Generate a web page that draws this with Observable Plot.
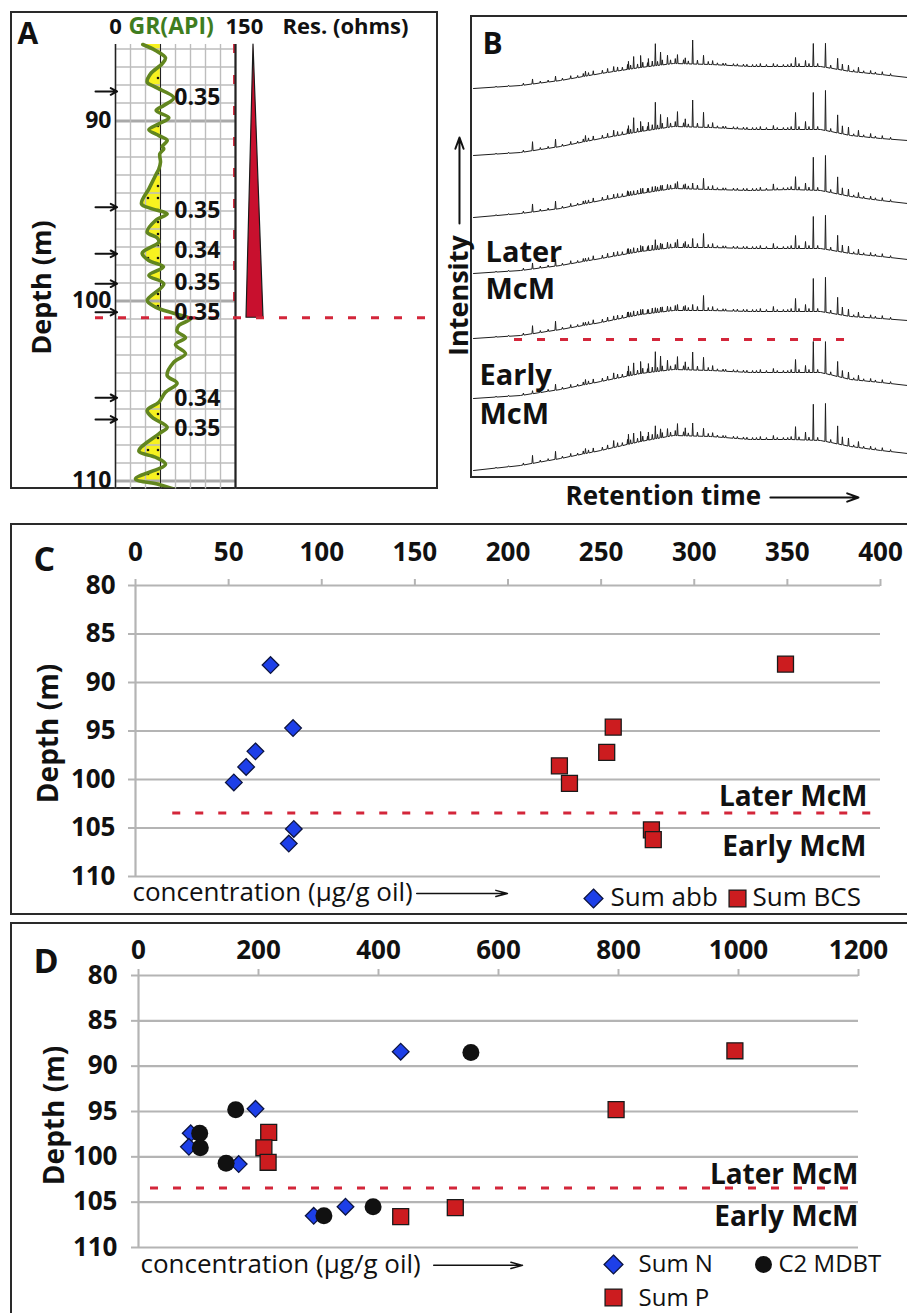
<!DOCTYPE html>
<html><head><meta charset="utf-8">
<script src="https://cdn.jsdelivr.net/npm/d3@7"></script>
<script src="https://cdn.jsdelivr.net/npm/@observablehq/plot@0.6"></script>
<style>
body{margin:0;background:#fff;}
#page{position:relative;width:907px;height:1313px;overflow:hidden;font-family:"Open Sans",sans-serif;background:#fff;}
.box{position:absolute;border:2px solid #2a2a2a;box-sizing:border-box;}
.slot{position:absolute;}
.slot svg{overflow:visible;}
</style></head><body>
<svg width="0" height="0" style="position:absolute">
  <defs>
    <pattern id="sand" patternUnits="userSpaceOnUse" width="10" height="12">
      <rect width="10" height="12" fill="#f7f21f"/>
      <circle cx="8" cy="6" r="1.3" fill="#111"/>
    </pattern>
  </defs>
</svg>
<div id="page">
  <div class="box" style="left:10px;top:11px;width:428px;height:478px"></div>
  <div class="box" style="left:470px;top:15px;width:445px;height:463px"></div>
  <div class="box" style="left:10px;top:523px;width:905px;height:392px"></div>
  <div class="box" style="left:10px;top:922px;width:905px;height:400px"></div>
  <div class="slot" id="pA" style="left:0;top:0"></div>
  <div class="slot" id="pB" style="left:440px;top:15px"></div>
  <div class="slot" id="pC" style="left:0;top:523px"></div>
  <div class="slot" id="pD" style="left:0;top:923px"></div>
</div>
<script>
// ---------------- Panel A data ----------------
const grDepth = [85.75,86.08,86.49,86.82,87.38,87.84,88.12,88.71,89.14,89.42,89.82,90.16,90.49,90.81,91.08,91.42,91.55,91.82,92.29,92.66,93.03,93.77,94.6,94.88,95.16,95.53,96.18,96.49,96.73,97.34,97.75,98.1,98.58,99.05,99.97,100.34,100.71,100.99,101.36,101.68,102.04,102.42,102.93,103.4,104.14,104.57,105.07,105.62,106.08,106.46,107.01,107.38,108.34,108.68,109.08,109.88,110.19,110.53];
const grValue = [34.1,50,62.5,58.3,43.75,39.6,50,72.9,60.4,50.8,66.7,54.2,41.7,54.2,64.6,58.3,60.4,55.4,56.25,54.2,50,41.7,32.5,45.8,64.6,50,39.6,52.1,54.2,33.3,41.7,60,41.7,60.4,39.6,50,75,93.75,79.2,77,87.5,75,87.5,72.9,64.6,77,62.5,54.2,39.6,45.8,64.6,54.2,29.2,50,62.5,25,54.2,79.2];
const grCutoff = 56.25;
const grGrid = [0,18.75,37.5,56.25,75,93.75,112.5,131.25,150];
const depthGridA = d3.range(86,111);
const depthMajorA = [90,100,110];
const sampleDepth = [88.36,94.79,97.38,99.04,100.62,105.38,106.58];
const porosityDepth = [88.7,94.97,97.19,98.97,100.64,105.4,107.08];
const porosity = ["0.35","0.35","0.34","0.35","0.35","0.34","0.35"];
const resDepth = [85.75,100.93];
const resLeft = [172.5,163.75];
const resRight = [172.5,185];
const boundaryA = 100.93;

// ---------------- Panel B data ----------------
const retGrid = [0,10.8,20.0,29.3,38.5,46.1,54.6,63.8,73.0,80.0,86.9,93.8,100];
const traceStart = [389,322,260,204,139,79,7];
const baseRows = [
  [0,3,8,15,21,25,24,22,22,22,17,14,11],
  [0,3,9,17,24,29,28,26,26,26,20,17,15],
  [0,4,9,17,24,29,28,27,28,27,21,17,14],
  [0,3,8,15,22,26,26,25,25,25,20,17,14],
  [0,3,9,16,24,28,28,27,27,27,22,20,18],
  [0,3,9,17,25,29,28,26,26,26,19,16,13],
  [0,5,12,20,29,35,34,31,31,30,24,20,17]
];
const peakT = [13.6,18.9,25.8,32.3,35.7,36.9,38.5,40.3,41.9,43.1,44.7,47.0,48.8,50.5,53.0,55.1,66.1,69.1,74.2,76.5,78.3,81.1,83.9,85.0,86.4,88.7,91.5,94.2];
const peakRows = [
  [5,5,5,5,8,12,12,8,22,13,9,9,6,24,9,4,3,3,9,6,23,24,11,6,6,5,3,3],
  [9,8,6,6,8,15,10,8,27,14,10,15,8,27,15,5,3,4,17,8,37,40,18,8,8,6,4,3],
  [8,8,3,4,4,4,5,4,5,5,5,7,5,6,11,4,3,6,13,7,33,36,17,7,7,5,3,3],
  [6,7,3,4,5,5,6,5,10,6,6,8,6,9,14,4,3,5,13,7,32,34,16,7,7,5,3,3],
  [8,9,3,4,5,5,5,4,5,5,5,6,5,6,15,4,3,5,13,7,33,35,17,8,7,5,3,3],
  [3,6,5,6,10,12,12,9,20,15,10,13,8,18,13,5,3,4,13,7,31,32,15,7,7,5,3,3],
  [8,8,5,7,10,10,10,8,13,9,8,12,8,13,8,4,3,4,13,8,36,38,18,8,8,6,3,3]
];
const minorT = [5.2,8.1,11.5,15.4,17.2,20.5,22.4,24.0,25.3,26.5,27.6,29.7,30.9,33.2,34.3,35.5,36.2,37.8,39.0,40.1,41.2,42.4,43.5,45.4,46.5,48.4,49.5,51.6,54.1,56.2,57.5,58.1,59.9,60.8,62.2,63.0,64.3,65.2,67.5,70.0,71.4,72.4,73.2,75.0,77.3,79.3,82.3,87.6,89.9,92.6,96.1];
const minorH = [1,1,2,2,2,2,3,2,3,3,4,3,4,4,3,5,4,4,5,4,5,4,5,4,5,4,3,4,3,2,2,2,2,2,2,2,2,2,2,2,2,2,3,3,3,3,3,2,2,2,2];
const boundaryB = 138;

// ---------------- Panel C data ----------------
const abbDepth = [88.2,94.7,97.1,98.7,100.3,105.1,106.6];
const sumAbb = [72.5,84.6,64.4,59.4,52.8,85,82.3];
const bcsDepth = [88.1,94.6,97.2,98.6,100.4,105.2,106.2];
const sumBCS = [349,256.5,253,227.6,233,277,278];
const xTicksC = [0,50,100,150,200,250,300,350,400];
const depthTicks = [80,85,90,95,100,105,110];
const boundaryCD = 103.45;

// ---------------- Panel D data ----------------
const nDepth = [88.4,94.7,97.4,98.9,100.8,106.5,105.5];
const sumN = [437,195,87,84,167,292,345];
const mdbtDepth = [88.5,94.8,97.4,99.0,100.7,106.5,105.5];
const c2mdbt = [554,162,102,103,146,309,391];
const pDepth = [88.3,94.8,97.3,99.0,100.6,106.6,105.6];
const sumP = [994,796,217,209,216,437,528];
const xTicksD = [0,200,400,600,800,1000,1200];

// ---------------- helpers ----------------
const FONT = "Open Sans";
const INK = "#111";
const RED = "#d3263a";
const lab = (s, dx, dy, o = {}) => Plot.text([s], {text: d => d, frameAnchor: "top-left", dx, dy, lineAnchor: "bottom", textAnchor: "start", fill: INK, ...o});
const sym = (symbol, dx, dy, o = {}) => Plot.dot([0], {frameAnchor: "top-left", dx, dy, symbol, ...o});

// ================= Panel A =================
const grRows = grDepth.map((d, i) => ({depth: d, gr: grValue[i]}));
const resRows = resDepth.map((d, i) => ({depth: d, left: resLeft[i], right: resRight[i]}));
const porRows = porosityDepth.map((d, i) => ({depth: d, v: porosity[i]}));
const A = Plot.plot({
  width: 440, height: 490, marginLeft: 115, marginRight: 205, marginTop: 0, marginBottom: 0,
  x: {domain: [0, 150], axis: null},
  y: {domain: [83.306, 110.528], reverse: true, axis: null},
  style: {fontFamily: FONT, background: "transparent", overflow: "visible"},
  marks: [
    Plot.areaX(grRows, {y: "depth", x1: "gr", x2: grCutoff, curve: "catmull-rom", fill: "url(#sand)"}),
    Plot.ruleY(depthGridA, {x1: 0, x2: 150, stroke: "#bdbdbd", strokeWidth: 1.4}),
    Plot.ruleY(depthMajorA, {x1: 0, x2: 150, stroke: "#a9a9a9", strokeWidth: 3}),
    Plot.ruleX(grGrid, {y1: 85.75, y2: 110.45, stroke: "#bdbdbd", strokeWidth: 1.4}),
    Plot.ruleX([148.2], {y1: 85.75, y2: boundaryA, stroke: RED, strokeWidth: 2, strokeDasharray: "9,22"}),
    Plot.ruleX([0], {y1: 85.75, y2: 110.45, stroke: "#222", strokeWidth: 1.5}),
    Plot.ruleX([grCutoff], {y1: 85.75, y2: 110.45, stroke: "#222", strokeWidth: 1}),
    Plot.ruleX([150], {y1: 85.75, y2: 110.45, stroke: "#222", strokeWidth: 2.2}),
    Plot.areaX(resRows, {y: "depth", x1: "left", x2: "right", fill: "#c8102e", stroke: "#1a1a1a", strokeWidth: 1.2}),
    Plot.line(grRows, {x: "gr", y: "depth", curve: "catmull-rom", stroke: "#62861f", strokeWidth: 3.6}),
    Plot.ruleY([boundaryA], {x1: -25, x2: 394, stroke: RED, strokeWidth: 3, strokeDasharray: "8,15"}),
    Plot.arrow(sampleDepth, {x1: -25, x2: 2, y1: d => d, y2: d => d, stroke: INK, strokeWidth: 2, headLength: 10, headAngle: 55}),
    Plot.text(porRows, {x: 73.5, y: "depth", text: "v", textAnchor: "start", fontWeight: 700, fontSize: 23, fill: INK}),
    Plot.text(depthMajorA, {x: 0, y: d => d, dx: -4, text: d => String(d), textAnchor: "end", fontWeight: 700, fontSize: 23, fill: INK}),
    lab("A", -98, 43, {fontSize: 30, fontWeight: 700}),
    lab("0", 0, 33, {fontSize: 22, fontWeight: 700, textAnchor: "middle"}),
    lab("GR(API)", 13, 33, {fontSize: 23, fontWeight: 700, fill: "#3f7d1f"}),
    lab("150", 110, 33, {fontSize: 22, fontWeight: 700}),
    lab("Res. (ohms)", 167, 33, {fontSize: 22, fontWeight: 700}),
    lab("Depth (m)", -65, 287, {fontSize: 27, fontWeight: 700, rotate: -90, textAnchor: "middle"})
  ]
});
{
  const svg = d3.select(A);
  let cx;
  try { cx = A.scale("x").apply(grCutoff); } catch (e) { cx = 115 + grCutoff * 0.8; }
  const defs = svg.insert("defs", ":first-child");
  defs.append("clipPath").attr("id", "sandClip")
    .append("rect").attr("x", 0).attr("y", 0).attr("width", cx).attr("height", 487);
  defs.append("clipPath").attr("id", "trackClip")
    .append("rect").attr("x", 0).attr("y", 0).attr("width", 440).attr("height", 487);
  svg.select('g[aria-label="area"]').attr("clip-path", "url(#sandClip)");
  svg.select('g[aria-label="line"]').attr("clip-path", "url(#trackClip)");
}
document.getElementById("pA").appendChild(A);

// ================= Panel B =================
function baseAt(k, t) {
  const row = baseRows[k];
  for (let i = 1; i < retGrid.length; i++) {
    if (t <= retGrid[i]) {
      const f = (t - retGrid[i - 1]) / (retGrid[i] - retGrid[i - 1]);
      return row[i - 1] + f * (row[i] - row[i - 1]);
    }
  }
  return row[row.length - 1];
}
const chromRows = [];
traceStart.forEach((off, k) => {
  const pts = retGrid.map((t, i) => ({t, v: off + baseRows[k][i]}));
  const peaks = peakT.map((t, i) => [t, peakRows[k][i]]).concat(minorT.map((t, i) => [t, minorH[i]]));
  for (const [t, h] of peaks) {
    const b = off + baseAt(k, t);
    pts.push({t: t - 0.13, v: b}, {t, v: b + h}, {t: t + 0.13, v: b});
  }
  pts.sort((a, b) => a.t - b.t);
  for (const p of pts) chromRows.push({trace: k, t: p.t, v: p.v});
});
const B = Plot.plot({
  width: 467, height: 500, marginLeft: 33, marginRight: 0, marginTop: 0, marginBottom: 38,
  x: {domain: [0, 100], axis: null},
  y: {domain: [0, 462], axis: null},
  style: {fontFamily: FONT, background: "transparent", overflow: "visible"},
  marks: [
    Plot.line(chromRows, {x: "t", y: "v", z: "trace", stroke: "#1e1e1e", strokeWidth: 1}),
    Plot.ruleY([boundaryB], {x1: 9.45, x2: 86.4, stroke: RED, strokeWidth: 3, strokeDasharray: "8,15"}),
    Plot.arrow([0], {x1: -3.23, x2: -3.23, y1: 254, y2: 340, stroke: INK, strokeWidth: 2, headLength: 9, headAngle: 40}),
    Plot.arrow([0], {x1: 68.4, x2: 88.7, y1: -20, y2: -20, stroke: INK, strokeWidth: 2, headLength: 9, headAngle: 40}),
    lab("B", 9, 38, {fontSize: 30, fontWeight: 700}),
    lab("Later", 12, 246, {fontSize: 29, fontWeight: 700}),
    lab("McM", 12, 283, {fontSize: 29, fontWeight: 700}),
    lab("Early", 6, 369, {fontSize: 29, fontWeight: 700}),
    lab("McM", 6, 408, {fontSize: 29, fontWeight: 700}),
    lab("Intensity", -6, 280, {fontSize: 27, fontWeight: 700, rotate: -90, textAnchor: "middle"}),
    lab("Retention time", 92, 489, {fontSize: 26, fontWeight: 700})
  ]
});
document.getElementById("pB").appendChild(B);

// ================= Panel C =================
const abbRows = abbDepth.map((d, i) => ({depth: d, conc: sumAbb[i]}));
const bcsRows = bcsDepth.map((d, i) => ({depth: d, conc: sumBCS[i]}));
const GRID = "#b4b4b4";
const C = Plot.plot({
  width: 907, height: 391, marginLeft: 135, marginRight: 27, marginTop: 62, marginBottom: 38,
  x: {domain: [0, 400], label: null},
  y: {domain: [80, 110], reverse: true, label: null},
  style: {fontFamily: FONT, background: "transparent", overflow: "visible"},
  marks: [
    Plot.ruleY(depthTicks, {stroke: GRID, strokeWidth: 2.2}),
    Plot.ruleX([0], {y1: 80, y2: 110, stroke: GRID, strokeWidth: 2.2}),
    Plot.axisX({anchor: "top", ticks: xTicksC, tickSize: 7, tickPadding: 18, stroke: GRID, strokeWidth: 2, fontSize: 26, fontWeight: 700, fill: INK, label: null, tickFormat: d => String(d)}),
    Plot.axisY({anchor: "left", ticks: depthTicks, tickSize: 7, tickPadding: 13, stroke: GRID, strokeWidth: 2, fontSize: 26, fontWeight: 700, fill: INK, label: null, tickFormat: d => String(d)}),
    Plot.ruleY([boundaryCD], {x1: 20, x2: 397, stroke: RED, strokeWidth: 3, strokeDasharray: "8,15"}),
    Plot.dot(abbRows, {x: "conc", y: "depth", symbol: "diamond2", r: 7.5, fill: "#1d3fe8", stroke: "#0c1440", strokeWidth: 1.3}),
    Plot.dot(bcsRows, {x: "conc", y: "depth", symbol: "square", r: 9, fill: "#cc1c1f", stroke: "#1a1a1a", strokeWidth: 1.3}),
    Plot.arrow([0], {x1: 151, x2: 199.7, y1: 111.75, y2: 111.75, stroke: INK, strokeWidth: 1.5, headLength: 12, headAngle: 30}),
    lab("C", -102, -15, {fontSize: 34, fontWeight: 700}),
    lab("Depth (m)", -78, 148, {fontSize: 28, fontWeight: 700, rotate: -90, textAnchor: "middle"}),
    lab("concentration (µg/g oil)", -3, 315, {fontSize: 26}),
    lab("Later McM", 732, 220, {fontSize: 28, fontWeight: 700, textAnchor: "end"}),
    lab("Early McM", 731, 270, {fontSize: 28, fontWeight: 700, textAnchor: "end"}),
    sym("diamond2", 458, 313, {r: 8.5, fill: "#1d3fe8", stroke: "#0c1440", strokeWidth: 1.3}),
    lab("Sum abb", 475, 320, {fontSize: 26}),
    sym("square", 602, 313, {r: 9.5, fill: "#cc1c1f", stroke: "#1a1a1a", strokeWidth: 1.3}),
    lab("Sum BCS", 617, 320, {fontSize: 26})
  ]
});
document.getElementById("pC").appendChild(C);

// ================= Panel D =================
const nRows = nDepth.map((d, i) => ({depth: d, conc: sumN[i]}));
const mRows = mdbtDepth.map((d, i) => ({depth: d, conc: c2mdbt[i]}));
const pRows = pDepth.map((d, i) => ({depth: d, conc: sumP[i]}));
const D = Plot.plot({
  width: 907, height: 390, marginLeft: 138, marginRight: 49, marginTop: 52, marginBottom: 66,
  x: {domain: [0, 1200], label: null},
  y: {domain: [80, 110], reverse: true, label: null},
  style: {fontFamily: FONT, background: "transparent", overflow: "visible"},
  marks: [
    Plot.ruleY(depthTicks, {stroke: GRID, strokeWidth: 2.2}),
    Plot.ruleX([0], {y1: 80, y2: 110, stroke: GRID, strokeWidth: 2.2}),
    Plot.axisX({anchor: "top", ticks: xTicksD, tickSize: 7, tickPadding: 10, stroke: GRID, strokeWidth: 2, fontSize: 26, fontWeight: 700, fill: INK, label: null, tickFormat: d => String(d)}),
    Plot.axisY({anchor: "left", ticks: depthTicks, tickSize: 7, tickPadding: 14, stroke: GRID, strokeWidth: 2, fontSize: 26, fontWeight: 700, fill: INK, label: null, tickFormat: d => String(d)}),
    Plot.ruleY([boundaryCD], {x1: 20, x2: 1198, stroke: RED, strokeWidth: 3, strokeDasharray: "8,15"}),
    Plot.dot(pRows, {x: "conc", y: "depth", symbol: "square", r: 9, fill: "#cc1c1f", stroke: "#1a1a1a", strokeWidth: 1.3}),
    Plot.dot(nRows, {x: "conc", y: "depth", symbol: "diamond2", r: 7.5, fill: "#1d3fe8", stroke: "#0c1440", strokeWidth: 1.3}),
    Plot.dot(mRows, {x: "conc", y: "depth", r: 8.5, fill: "#111"}),
    Plot.arrow([0], {x1: 492, x2: 640, y1: 111.97, y2: 111.97, stroke: INK, strokeWidth: 1.5, headLength: 12, headAngle: 30}),
    lab("D", -105, -3, {fontSize: 34, fontWeight: 700}),
    lab("Depth (m)", -75, 140, {fontSize: 28, fontWeight: 700, rotate: -90, textAnchor: "middle"}),
    lab("concentration (µg/g oil)", 2, 297, {fontSize: 26}),
    lab("Later McM", 720, 208, {fontSize: 28, fontWeight: 700, textAnchor: "end"}),
    lab("Early McM", 720, 250, {fontSize: 28, fontWeight: 700, textAnchor: "end"}),
    sym("diamond2", 475, 289, {r: 8.5, fill: "#1d3fe8", stroke: "#0c1440", strokeWidth: 1.3}),
    lab("Sum N", 500, 296, {fontSize: 24}),
    sym("circle", 625, 289, {r: 8.5, fill: "#111"}),
    lab("C2 MDBT", 640, 296, {fontSize: 24}),
    sym("square", 475, 322, {r: 9.5, fill: "#cc1c1f", stroke: "#1a1a1a", strokeWidth: 1.3}),
    lab("Sum P", 500, 330, {fontSize: 24})
  ]
});
document.getElementById("pD").appendChild(D);
</script>
</body></html>
